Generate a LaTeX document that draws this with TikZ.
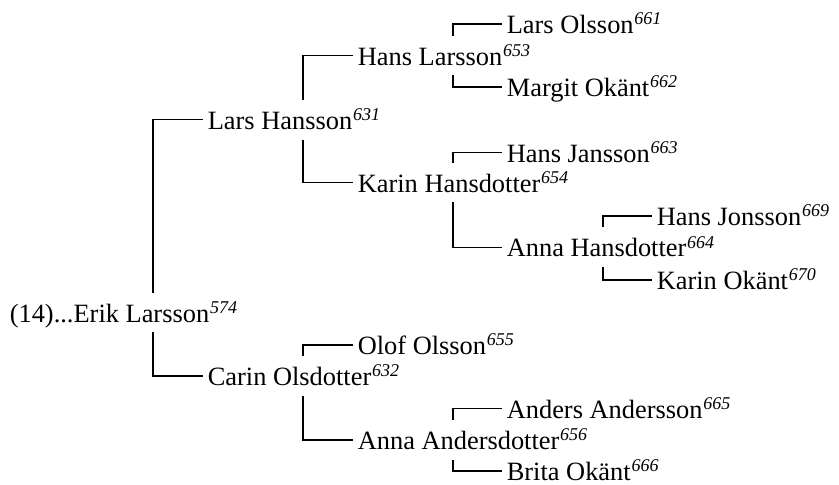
\documentclass[tikz,border=0pt]{standalone}
\usepackage{fontspec}
\setmainfont{Liberation Serif}
\usepackage{tikz}
\newcommand{\refnr}[1]{\kern0.4pt\raisebox{4.3pt}{\fontsize{9}{9}\selectfont\itshape #1}}

\begin{document}
\begin{tikzpicture}[x=0.5pt,y=-0.5pt,
  person/.style={anchor=base west, inner xsep=2.2pt, inner ysep=0pt,
    text height=14.5pt, text depth=5pt, font=\fontsize{13.2}{15}\selectfont},
  link/.style={line width=0.6pt}]
\useasboundingbox (0,0) rectangle (839,484);
\coordinate (c1) at (153,0);
\coordinate (c2) at (303,0);
\coordinate (c3) at (453,0);
\coordinate (c4) at (603,0);
\node[person] (EL) at (5,322) {(14)...Erik Larsson\refnr{574}};
\node[person] (LH) at (203,129.3) {Lars Hansson\refnr{631}};
\node[person] (CO) at (203,385.5) {Carin Olsdotter\refnr{632}};
\node[person] (HL) at (353,65) {Hans Larsson\refnr{653}};
\node[person] (KH) at (353,192) {Karin Hansdotter\refnr{654}};
\node[person] (OO) at (353,354.5) {Olof Olsson\refnr{655}};
\node[person] (AA) at (353,449.5) {Anna Andersdotter\refnr{656}};
\node[person] (LO) at (502,33.5) {Lars Olsson\refnr{661}};
\node[person] (MO) at (502,96.5) {Margit Okänt\refnr{662}};
\node[person] (HJ) at (502,162) {Hans Jansson\refnr{663}};
\node[person] (AH) at (502,256.7) {Anna Hansdotter\refnr{664}};
\node[person] (AN) at (502,418) {Anders Andersson\refnr{665}};
\node[person] (BO) at (502,480.5) {Brita Okänt\refnr{666}};
\node[person] (HO) at (652,225.5) {Hans Jonsson\refnr{669}};
\node[person] (KO) at (652,289.5) {Karin Okänt\refnr{670}};
\draw[link] (EL.north -| c1) |- (LH.west);
\draw[link] (EL.south -| c1) |- (CO.west);
\draw[link] (LH.north -| c2) |- (HL.west);
\draw[link] (LH.south -| c2) |- (KH.west);
\draw[link] (CO.north -| c2) |- (OO.west);
\draw[link] (CO.south -| c2) |- (AA.west);
\draw[link] (HL.north -| c3) |- (LO.west);
\draw[link] (HL.south -| c3) |- (MO.west);
\draw[link] (KH.north -| c3) |- (HJ.west);
\draw[link] (KH.south -| c3) |- (AH.west);
\draw[link] (AA.north -| c3) |- (AN.west);
\draw[link] (AA.south -| c3) |- (BO.west);
\draw[link] (AH.north -| c4) |- (HO.west);
\draw[link] (AH.south -| c4) |- (KO.west);
\end{tikzpicture}
\end{document}
